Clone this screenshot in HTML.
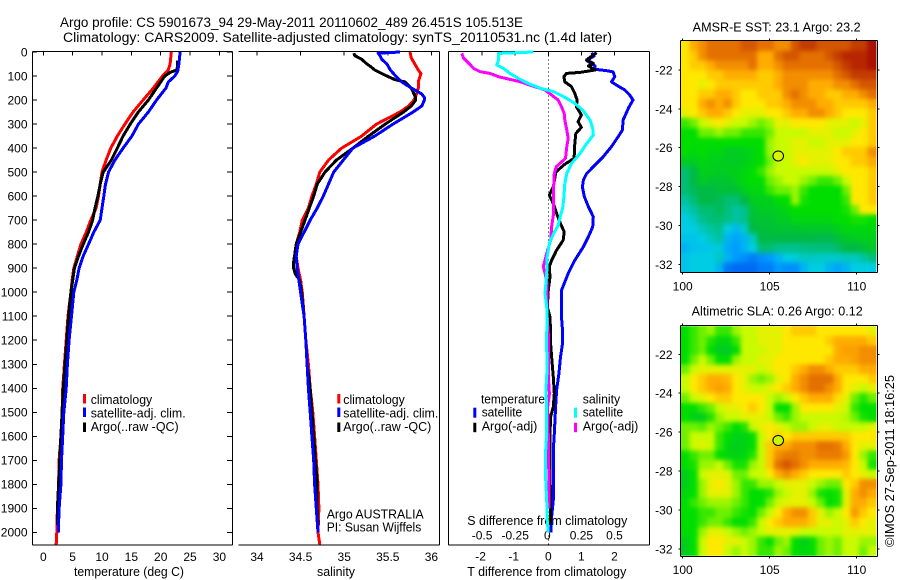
<!DOCTYPE html>
<html lang="en">
<head>
<meta charset="utf-8">
<title>Argo profile chart</title>
<style>
html,body{margin:0;padding:0;background:#fff;}
svg{display:block;}
text{font-family:"Liberation Sans",sans-serif;font-size:12.5px;fill:#000;}
.t{font-size:12px;}
</style>
</head>
<body>
<svg id="chart" xmlns="http://www.w3.org/2000/svg" width="900" height="580" viewBox="0 0 900 580">
<defs>
<filter id="map-blur" x="-5%" y="-5%" width="110%" height="110%" color-interpolation-filters="sRGB"><feGaussianBlur stdDeviation="2.3"/></filter>
<clipPath id="sst-clip"><rect x="681" y="41" width="196" height="231"/></clipPath>
<clipPath id="sla-clip"><rect x="681" y="326" width="196" height="230"/></clipPath>
</defs>
<rect x="0" y="0" width="900" height="580" fill="#fff"/>
<text x="60" y="27" style="font-size:13.5px" textLength="463" lengthAdjust="spacingAndGlyphs">Argo profile: CS 5901673_94 29-May-2011 20110602_489 26.451S 105.513E</text>
<text x="63" y="42" style="font-size:13.5px" textLength="549" lengthAdjust="spacingAndGlyphs">Climatology: CARS2009. Satellite-adjusted climatology: synTS_20110531.nc (1.4d later)</text>

<text x="74" y="576" textLength="110" lengthAdjust="spacingAndGlyphs">temperature (deg C)</text>
<text x="317" y="576" textLength="38" lengthAdjust="spacingAndGlyphs">salinity</text>
<text x="467.3" y="576" textLength="159" lengthAdjust="spacingAndGlyphs">T difference from climatology</text>
<text x="467.3" y="525" textLength="160" lengthAdjust="spacingAndGlyphs">S difference from climatology</text>

<g>
<rect x="83" y="394" width="3" height="9.5" fill="#ff0000"/>
<text x="90.7" y="404" textLength="61.5" lengthAdjust="spacingAndGlyphs">climatology</text>
<rect x="83" y="407.5" width="3" height="9.5" fill="#0000ff"/>
<text x="90.7" y="417.3" textLength="95" lengthAdjust="spacingAndGlyphs">satellite-adj. clim.</text>
<rect x="83" y="422.5" width="3" height="9.5" fill="#000"/>
<text x="90.7" y="431" textLength="88" lengthAdjust="spacingAndGlyphs">Argo(..raw -QC)</text>
</g>
<g>
<rect x="337.3" y="394" width="3" height="9.5" fill="#ff0000"/>
<text x="343.3" y="404" textLength="61.5" lengthAdjust="spacingAndGlyphs">climatology</text>
<rect x="337.3" y="407.5" width="3" height="9.5" fill="#0000ff"/>
<text x="343.3" y="417.3" textLength="95" lengthAdjust="spacingAndGlyphs">satellite-adj. clim.</text>
<rect x="337.3" y="422.5" width="3" height="9.5" fill="#000"/>
<text x="343.3" y="431" textLength="88" lengthAdjust="spacingAndGlyphs">Argo(..raw -QC)</text>
</g>
<text x="326.7" y="518.3" textLength="97" lengthAdjust="spacingAndGlyphs">Argo AUSTRALIA</text>
<text x="326.7" y="531.7" textLength="94.6" lengthAdjust="spacingAndGlyphs">PI: Susan Wijffels</text>

<g>
<text x="481" y="403.3" textLength="64" lengthAdjust="spacingAndGlyphs">temperature</text>
<rect x="473.3" y="407.7" width="3" height="10" fill="#0000ff"/>
<text x="481.7" y="416.7" textLength="40.5" lengthAdjust="spacingAndGlyphs">satellite</text>
<rect x="473.3" y="422.7" width="3" height="9.5" fill="#000"/>
<text x="481.7" y="430.7" textLength="55.6" lengthAdjust="spacingAndGlyphs">Argo(-adj)</text>
<text x="582.7" y="403.3" textLength="37.5" lengthAdjust="spacingAndGlyphs">salinity</text>
<rect x="574" y="407.7" width="3" height="10" fill="#00ffff"/>
<text x="582.7" y="416.7" textLength="40.5" lengthAdjust="spacingAndGlyphs">satellite</text>
<rect x="574" y="422.7" width="3" height="9.5" fill="#ff00ff"/>
<text x="582.7" y="430.7" textLength="55.6" lengthAdjust="spacingAndGlyphs">Argo(-adj)</text>
</g>

<text x="692.7" y="31.7" textLength="168" lengthAdjust="spacingAndGlyphs">AMSR-E SST: 23.1 Argo: 23.2</text>
<text x="691.7" y="315.7" textLength="171" lengthAdjust="spacingAndGlyphs">Altimetric SLA: 0.26 Argo: 0.12</text>
<text transform="translate(894 547) rotate(-90)" x="0" y="0" textLength="172" lengthAdjust="spacingAndGlyphs">©IMOS 27-Sep-2011 18:16:25</text>
</svg>

<script>
// ---------- Profile data: depth (m) and values ----------
const tempClimDepths = [0,50,75,100,150,200,250,300,350,400,450,500,550,600,650,700,750,800,850,900,950,1000,1100,1200,1300,1400,1500,1600,1700,1800,1900,2000,2050];
const tempClim = [21.8,21.6,21.3,20.3,18.75,17,15.3,13.9,12.6,11.5,10.7,10,9.7,9.4,9,8.1,7.3,6.4,5.8,5.2,4.9,4.7,4.2,3.9,3.6,3.3,3.2,3,2.7,2.6,2.4,2.3,2.2];
const tempSatDepths = [0,50,80,100,125,150,200,250,300,350,400,450,500,550,600,650,700,750,800,850,900,950,1000,1100,1200,1300,1400,1500,1600,1700,1800,1900,2000];
const tempSat = [23.3,23.1,22.9,22.4,21.3,20.9,19.3,17.9,16.2,15.1,13.6,12.2,11.1,10.6,10.3,10,9.7,8.6,7.7,6.8,6.1,5.7,5.2,4.8,4.4,4.1,3.9,3.5,3.3,3.1,3,2.7,2.55];
const tempArgoDepths = [35,75,80,85,100,125,150,200,250,300,350,400,450,500,550,600,650,700,750,800,850,900,950,1000,1100,1200,1300,1400,1500,1600,1700,1800,1900,1970];
const tempArgo = [22.9,22.8,22.2,21.6,20.7,20,19.3,17.9,16.2,14.8,13.6,12.6,11.6,10.2,9.7,9.3,8.8,8.4,7.7,6.8,6,5.3,5,4.7,4.3,4,3.7,3.4,3.2,3,2.8,2.6,2.4,2.4];

const salClimDepths = [0,25,50,75,90,100,125,150,175,200,225,250,300,350,400,450,500,550,600,650,700,750,800,850,900,950,1000,1050,1100,1200,1300,1400,1500,1600,1700,1800,1900,2000,2050];
const salClim = [35.755,35.77,35.81,35.85,35.88,35.87,35.85,35.85,35.83,35.8,35.74,35.64,35.37,35.2,34.97,34.82,34.72,34.68,34.63,34.59,34.52,34.49,34.45,34.45,34.47,34.5,34.52,34.53,34.54,34.56,34.59,34.61,34.64,34.66,34.68,34.7,34.71,34.7,34.72];
const salSatDepths = [0,5,15,30,50,75,100,125,150,175,190,200,225,250,300,350,400,450,500,550,600,650,700,750,800,850,900,950,1000,1050,1100,1200,1300,1400,1500,1600,1700,1800,1900,2000];
const salSat = [35.64,35.39,35.41,35.43,35.49,35.53,35.59,35.66,35.77,35.89,35.92,35.92,35.89,35.79,35.56,35.35,35.1,34.99,34.88,34.82,34.76,34.69,34.61,34.54,34.47,34.45,34.46,34.48,34.5,34.52,34.54,34.56,34.575,34.59,34.61,34.63,34.65,34.66,34.68,34.7];
const salArgoDepths = [5,15,30,50,60,75,100,115,125,150,175,190,200,225,250,300,350,400,450,500,550,600,650,700,750,800,850,875,900,925,950,1000,1100,1200,1300,1400,1500,1600,1700,1800,1900,1970];
const salArgo = [35.11,35.12,35.2,35.26,35.3,35.35,35.49,35.58,35.7,35.77,35.8,35.82,35.82,35.77,35.68,35.47,35.28,35.1,34.91,34.78,34.69,34.65,34.6,34.55,34.5,34.45,34.43,34.42,34.42,34.44,34.49,34.51,34.54,34.56,34.575,34.61,34.63,34.65,34.67,34.69,34.69,34.7];

const dTempSatDepths = [3,17,36,58,72,78,83,103,124,138,158,179,200,228,283,325,353,394,436,478,506,533,561,603,644,686,728,769,811,867,922,992,1103,1158,1214,1270,1339,1408,1477,1589,1658,1866,1936,2000];
const dTempSat = [1.31,1.38,1.16,1.41,1.41,1.76,1.96,2.01,1.91,2.06,2.31,2.46,2.56,2.44,2.26,2.24,2.11,1.91,1.66,1.36,1.16,1.06,1.03,1.09,1.21,1.36,1.34,1.21,1.06,0.8,0.6,0.4,0.4,0.43,0.43,0.37,0.32,0.25,0.22,0.18,0.15,0.15,0.1,0.08];
const dTempArgoDepths = [3,17,33,47,58,75,85,89,103,124,144,172,200,228,262,290,314,339,381,443,467,499,561,596,631,672,714,749,783,825,867,894,936,992,1061,1103,1172,1214,1283,1352,1422,1477,1519,1589,1658,1755,1866,1970];
const dTempArgo = [1.46,1.31,1.16,1.36,1.21,1.41,0.96,0.55,0.47,0.5,0.7,0.8,0.87,0.85,1,0.9,1,0.83,0.8,0.78,0.5,0.23,0.15,0.03,0.15,0.25,0.37,0.48,0.45,0.25,0.1,0.03,0.05,0,-0.03,0.05,0.07,0.07,0.11,0.15,0.18,0.15,0.07,0.05,0.05,0.05,0.07,0.06];
const dSalArgoDepths = [6,26,47,68,82,89,103,114,124,138,158,179,200,228,256,283,325,360,394,443,478,506,561,617,672,728,783,839,894,950,1006,1103,1172,1352,1422,1477,1658,1797,1900];
const dSalArgo = [-0.653,-0.64,-0.6,-0.565,-0.515,-0.44,-0.375,-0.29,-0.21,-0.14,-0.025,0.025,0.075,0.1,0.12,0.125,0.14,0.15,0.14,0.13,0.06,0.045,0.04,0.04,0.04,0.025,0.018,-0.012,-0.038,-0.012,-0.008,-0.008,0,0,0.008,-0.005,0.003,0.004,0.004];
const dSalSatDepths = [0,6,33,54,68,89,110,131,151,165,193,214,242,283,318,346,381,422,464,506,547,603,644,686,721,756,797,853,922,1006,1061,1103,1172,1240,1311,1408,1477,1589,1658,1755,1866,1950,2000];
const dSalSat = [-0.11,-0.375,-0.375,-0.39,-0.34,-0.29,-0.225,-0.15,-0.06,0.04,0.14,0.2,0.26,0.315,0.335,0.34,0.29,0.24,0.175,0.14,0.125,0.118,0.11,0.09,0.075,0.04,0.008,-0.008,-0.012,-0.025,-0.012,-0.008,-0.012,-0.012,-0.008,-0.018,-0.012,-0.012,-0.02,-0.022,-0.012,-0.008,0];

// ---------- Tick labels ----------
const depthTicks = [0,100,200,300,400,500,600,700,800,900,1000,1100,1200,1300,1400,1500,1600,1700,1800,1900,2000];
const tempTicks = [0,5,10,15,20,25,30];
const salTicks = [34,34.5,35,35.5,36];
const dTempTicks = [-2,-1,0,1,2];
const dSalTicks = [-0.5,-0.25,0,0.25,0.5];
const lonTicks = [100,105,110];
const latTicks = [-22,-24,-26,-28,-30,-32];

// ---------- Map data: value per cell, north to south ----------
const sstGrid = [
[8,9,9.5,10,10,10,10,10.5,10.5,10,10,9.5,9.5,10.5,11,11,10.5,10.5,10.5,10.5,11,11,12],
[8,8.5,9.5,10,10,10,10,10,10,9,9,10,10.5,10.5,10,10,10,10.5,11,11.5,11.5,11.5,12],
[8,8.5,8.5,9,9.5,9.5,9.5,9.5,10,9,9,9.5,10,10,10,10,10,10,10.5,11,11.5,11.5,12],
[8,8,8,8.5,8.5,9,9,9,9,8.5,8.5,9,9.5,9.5,9.5,9.5,9.5,9.5,10,10.5,11,11,11],
[8,8,7.5,8,8.5,8.5,8.5,8.5,8.5,8.5,8.5,9,9.5,9.5,9.5,9,9,9,9.5,9.5,10,10.5,10.5],
[8,8,8.5,8.5,9,9,8.5,8,8,8.5,8.5,8.5,9.5,10,9.5,9,9,8.5,8.5,9,9,9.5,10],
[8,8,9,9.5,9,9.5,8.5,8,8,8,8.5,8.5,9,9.5,9.5,9.5,9,9,8.5,8.5,8.5,8.5,9],
[7.5,8,8.5,9,9,8.5,8,7.5,7.5,7.5,8,8,8.5,9,9,9.5,9.5,9,8.5,8,8,8,8.5],
[5.5,6,7,7.5,8,7.5,7,7,6.5,6,6.5,7.5,7.5,8,8,8,8,7.5,7.5,7.5,7,7.5,8.5],
[5,5,6,6,6.5,6,6,5.5,5.5,5.5,6,7,7,7,7,7.5,7.5,7.5,7,7,7.5,8,8.5],
[5,5,5,5,5,5,5,5,5,5,6.5,7,7,7.5,7.5,7,7,7.5,7.5,7.5,8,8,8.5],
[5,4.8,5,4.8,4.8,4.5,4.5,4.6,4.8,5,6.5,7,7,7.5,7.5,7.5,7.5,7.5,8,8.5,8.5,8.5,9.5],
[4.5,4.5,4.8,4.6,4.6,4.5,4.5,4.6,4.8,5,6,7,7,7.5,8,7.5,7.5,7.5,8,8,8.5,8.5,9],
[3.5,4,4.6,4.6,4.5,4.6,4.6,4.8,5,5.5,6.5,7,7,7,7,7,7,7,7.5,8,8,8,8.5],
[3.5,4,4.5,4.3,4.3,4.3,4.6,4.8,5,5,6,6.5,7,7,6.5,6,5.5,5.5,6,7,8,8,8.5],
[3.5,3.8,4,4,4.2,4.2,4.2,4.6,4.8,4.8,5.5,6,6,6.5,5.5,5,5,5,5,6,8,8,8.5],
[3,3.5,4,4,3.8,3.5,3.5,4,4.5,4.6,4.6,5,5,6.5,5.2,5,5,5,5,5.5,8,8,8.5],
[2.5,3,3.5,3.5,3.8,3.4,3,3.2,4.3,4.5,4.5,4.6,4.8,5,5,5,5,5,5,5.2,6,8,8],
[2,2.5,3.2,3.5,3.5,3.3,3,3.2,4.2,4.3,4.3,4.5,4.5,4.8,4.8,4.8,4.8,4.8,5,5,5.2,5.2,5],
[2,2,2.6,3,3.2,2,1.6,2.4,4,4.2,4.2,4.3,4.3,4.3,4.4,4.4,4.4,4.4,4.6,4.8,4.8,4.8,4.8],
[1.8,1.8,2,2.5,3,1.5,1.2,1.5,2.5,4,4,4,4,4,4,4,3.9,3.9,4.2,4.4,4.5,4.6,4.6],
[1.5,1.8,1.8,1.9,2.2,1.3,1,1.5,2,3.5,3.5,3.2,3.2,3.2,3.3,3.4,3.4,3.4,3.6,4,4,4.2,4.4],
[1.8,2,2,2,2.5,1.5,1,0.8,0.5,0.8,1,1.5,2,2.2,2.5,2.5,2.4,2.4,2.4,2.6,2.5,3,3.4],
[1.8,2,2,2,1.5,0.4,0.2,0.2,0.2,0.5,0.5,1,0.8,0.8,1.5,2,2,1.5,1.2,1.5,2,2,2]
];
const slaGrid = [
[5,5.5,6,6.5,5.5,5.5,6.5,7,7,7.5,7.5,7.5,8,8.5,8.5,8.5,8,8,8,8,8,8,7.5],
[5,5.5,6,5.3,4.8,4.8,5.5,7,7,7.5,7.5,7.5,8,8,8,8,8,8.5,9,9,9,9,8.5],
[5,5.5,6,5,4.5,4.5,5,7,7,7,7.5,7.5,8,8,8,8,8,8,9,9.2,9.2,9.5,9.5],
[5,6,7,6,5,5,6.5,7,7,7.5,7.5,8,8,8,8,8,8,8.5,9,9,9.2,9.5,9.5],
[6,7,7.5,7.5,7.5,7.5,7.5,7.5,7.5,7,7.5,8,8,8.5,9,9.5,9.5,9,8.5,8.5,8.5,9,9],
[7,8,8.5,9,9,8.8,8,7.5,6.5,6,6.5,7.5,8,9,9.5,10,10,10,9,8,8,8,8.5],
[7,8,8.5,9,9.2,9,8,7.5,7,7,7.5,8,8.5,9,9.5,10,10,9.5,9,8,7.5,7,7.5],
[6,7,7.5,8,8.5,8.5,8,8,8,8,7,6.5,7,8,8.5,9,9,9,8.2,7.5,6,5.3,6],
[5,5,5.5,6,7,7.5,7.5,8,8.5,8,7,5,5,6.5,8,8,8,8,7.5,7,5.5,5,5],
[5,4.6,4.6,5.3,6.5,7,7,7.5,7.5,7.5,7,6,5.5,6.5,7,7,7,7,7,6.8,6,5.2,5],
[6,6,5.8,6.5,6,5.5,5,5.3,7,7.5,8,7.5,7,6.5,6.5,7,7.5,7.5,7,7,7,7,7.5],
[6,7,7,7,5.5,5,4.7,4.7,5,7,8,8.5,8,8.5,8.5,8.5,8.5,8.5,8.5,8.5,8,8,8],
[6,7,7.5,7,5.5,4.8,4.6,4.7,5,7,8.5,9,9,9.5,9.5,9.5,10,10,9.8,9,8,7.5,7.5],
[5,5.5,6,6,5,4.8,4.7,4.8,5.3,7,8.5,9.5,9.8,9.8,9.5,9.5,9.8,9.8,9.8,9.3,8,6.5,5.5],
[5,5.2,6.5,6.5,7,6,5.2,5.2,6.5,7,8.5,10,10.5,10,9.5,9,9,9,9,8.8,8,7,5.2],
[4.6,5,7,7.5,7.5,7.3,6,6,7,7,8,9,9.5,9,8.5,8,8,8,8,8.5,8,7.5,7],
[4.6,5,6.5,7.5,8,7.5,6.5,5.5,5.5,6.5,6.5,7,7.5,7.5,7.5,7,6.5,6,6,8,8.5,9.5,9.5],
[4.8,5,6.5,7.5,7.5,7.5,6.5,5.5,5,5,5.3,6.5,7,7.5,7.5,6.5,5.2,5,5.2,7.5,9,9.5,9],
[5,5.5,6,6.5,6.5,6.5,6,5.5,5,5,6,7,7.5,7.5,7.5,7,6,5,5.2,7.5,9,9,8.5],
[5,5,5.5,5.5,6,6,5.5,5.2,5,6,7,8,9,9.5,9.5,8.5,7.5,6.5,7,8,9.3,8.5,8],
[5,5,5.5,6,6,5.5,5,5,5.5,7,8,8.5,9,9,9,8.5,7.5,7.5,7,7.5,8.5,8,7.5],
[5,5,6.5,7.5,7.5,7,6.5,6,6.5,7,7.5,7.5,7.5,7.5,7,7,7,7,7,7.5,7.5,7.5,7.5],
[4.6,5,7,8,8,7.5,7.5,7,6.5,5.5,5,6,6.5,5,4.6,5,6,6.5,6,7,7,6.5,6.5],
[4.5,5,7,8,8,7,6.5,7,6.5,5.5,5.5,6.5,6,5,4.8,5,6,6.5,6,7,7,6,7]
];
const sstArgoValue = [7.3];
const slaArgoValue = [7];
const floatLon = [105.513];
const floatLat = [-26.451];

const NS = 'http://www.w3.org/2000/svg';
const svg = document.getElementById('chart');

// ---------- Axis functions ----------
function depthY(d){ return 52 + d * 0.2402; }
function tempX(t){ return 43.3 + t * 5.87; }
function salX(s){ return 257 + (s - 34) * 87.2; }
function dTempX(t){ return 548.3 + t * 33.1; }
function dSalX(s){ return 548.3 + s * 132.4; }
function lonX(l){ return 682.7 + (l - 100) * 17.4; }
function sstLatY(l){ return 70 + (-22 - l) * 19.43; }
function slaLatY(l){ return 354.3 + (-22 - l) * 19.47; }

function addLine(x1,y1,x2,y2,name){
  const el = document.createElementNS(NS,'line');
  el.setAttribute('x1',x1);
  el.setAttribute('y1',y1);
  el.setAttribute('x2',x2);
  el.setAttribute('y2',y2);
  el.setAttribute('stroke','#000');
  el.setAttribute('stroke-width','1');
  el.setAttribute('shape-rendering','crispEdges');
  
  
  svg.appendChild(el);
  return el;
}
function addLabel(x,y,str,anchor,name){
  const el = document.createElementNS(NS,'text');
  el.setAttribute('x',x);
  el.setAttribute('y',y);
  el.setAttribute('text-anchor',anchor);
  el.setAttribute('class','t');
  el.textContent = str;
  
  
  svg.appendChild(el);
  return el;
}
function addProfile(depths,vals,xf,color,name){
  const el = document.createElementNS(NS,'polyline');
  const pts = depths.map(function(d,i){ return xf(vals[i]).toFixed(1)+','+depthY(d).toFixed(1); });
  el.setAttribute('points',pts.join(' '));
  el.setAttribute('fill','none');
  el.setAttribute('stroke',color);
  el.setAttribute('stroke-width','3');
  el.setAttribute('stroke-linejoin','round');
  el.setAttribute('shape-rendering','crispEdges');
  
  
  svg.appendChild(el);
  return el;
}

// ---------- Map colours ----------
const colorStops = [[0,[0,95,240]],[1,[0,155,255]],[2,[0,205,228]],[3,[0,195,160]],[4,[0,185,70]],[5,[0,222,0]],[6,[110,240,0]],[7,[200,250,0]],[8,[255,232,0]],[9,[255,172,0]],[10,[228,112,0]],[11,[195,60,0]],[12,[170,15,0]]];
function mapColor(v){
  let i = 0;
  while(i < colorStops.length - 2 && v > colorStops[i+1][0]) i++;
  const a = colorStops[i], b = colorStops[i+1];
  const f = Math.max(0, Math.min(1, (v - a[0]) / (b[0] - a[0])));
  return 'rgb(' + a[1].map(function(c,k){ return Math.round(c + (b[1][k] - c) * f); }).join(',') + ')';
}
function drawMap(grid,latY,latTop,latBottom,name,groupId,clipId){
  const lonLeft = 99.9, lonRight = 111.1;
  const rows = grid.length, cols = grid[0].length;
  const group = document.createElementNS(NS,'g');
  group.setAttribute('id',groupId);
  
  
  grid.forEach(function(row,r){
    row.forEach(function(v,c){
      const x0 = lonX(lonLeft + (lonRight - lonLeft) * c / cols);
      const x1 = lonX(lonLeft + (lonRight - lonLeft) * (c + 1) / cols);
      const y0 = latY(latTop - (latTop - latBottom) * r / rows);
      const y1 = latY(latTop - (latTop - latBottom) * (r + 1) / rows);
      const el = document.createElementNS(NS,'rect');
      el.setAttribute('x',x0.toFixed(2));
      el.setAttribute('y',y0.toFixed(2));
      el.setAttribute('width',(x1 - x0).toFixed(2));
      el.setAttribute('height',(y1 - y0).toFixed(2));
      el.setAttribute('fill',mapColor(v));
      el.setAttribute('shape-rendering','crispEdges');
      
      
      group.appendChild(el);
    });
  });
  svg.appendChild(group);
  // Smoothed overlay of the same cells, clipped to the map frame
  const clipper = document.createElementNS(NS,'g');
  clipper.setAttribute('clip-path','url(#' + clipId + ')');
  
  
  const smooth = document.createElementNS(NS,'use');
  smooth.setAttribute('href','#' + groupId);
  smooth.setAttribute('filter','url(#map-blur)');
  
  
  clipper.appendChild(smooth);
  svg.appendChild(clipper);
}
function drawMapFrame(top,bottom,latY,labelBase,prefix){
  const left = 680.5, right = 877.5;
  addLine(left,top,right,top,prefix + '-frame-top');
  addLine(left,bottom,right,bottom,prefix + '-frame-bottom');
  addLine(left,top,left,bottom,prefix + '-frame-left');
  addLine(right,top,right,bottom,prefix + '-frame-right');
  lonTicks.forEach(function(l){
    const x = lonX(l);
    addLine(x,top - 2,x,top,prefix + '-lon-tick-top');
    addLine(x,bottom,x,bottom + 2,prefix + '-lon-tick-bottom');
    addLabel(x,labelBase,String(l),'middle',prefix + '-lon-label');
  });
  latTicks.forEach(function(l){
    const y = latY(l);
    addLine(left - 2,y,left,y,prefix + '-lat-tick-left');
    addLine(right,y,right + 2,y,prefix + '-lat-tick-right');
    addLabel(672.5,y + 4.5,String(l),'end',prefix + '-lat-label');
  });
}
function drawFloat(latY,val,name){
  const el = document.createElementNS(NS,'ellipse');
  el.setAttribute('cx',lonX(floatLon[0]) - 0.4);
  el.setAttribute('cy',latY(floatLat[0]) - 0.5);
  el.setAttribute('rx','5.3');
  el.setAttribute('ry','5');
  el.setAttribute('fill',mapColor(val));
  el.setAttribute('stroke','#000');
  el.setAttribute('stroke-width','1');
  
  
  svg.appendChild(el);
}

// ---------- Profile panel axes ----------
addLine(32.5,51.5,232.5,51.5,'temperature-panel-top');
addLine(32.5,545,232.5,545,'temperature-panel-bottom');
addLine(32.5,51.5,32.5,545,'temperature-panel-left');
addLine(232.5,51.5,232.5,545,'temperature-panel-right');
depthTicks.forEach(function(d){
  const y = depthY(d);
  addLine(32.5,y,37,y,'depth-tick-left');
  addLine(227,y,232.5,y,'depth-tick-right');
  addLabel(27.5,y + 4.3,String(d),'end','depth-tick-label');
});
tempTicks.forEach(function(t){
  const x = tempX(t);
  addLine(x,51.5,x,55.5,'temperature-tick');
  addLabel(x,561,String(t),'middle','temperature-tick-label');
});

addLine(238.5,51.5,439.5,51.5,'salinity-panel-top');
addLine(238.5,545,439.5,545,'salinity-panel-bottom');
addLine(439.5,51.5,439.5,545,'salinity-panel-right');
salTicks.forEach(function(s){
  const x = salX(s);
  addLine(x,51.5,x,55.5,'salinity-tick');
  addLabel(x,561,String(s),'middle','salinity-tick-label');
});

addLine(448.5,51.5,649.5,51.5,'difference-panel-top');
addLine(448.5,545,649.5,545,'difference-panel-bottom');
addLine(448.5,51.5,448.5,545,'difference-panel-left');
addLine(649.5,51.5,649.5,545,'difference-panel-right');
dTempTicks.forEach(function(t){
  const x = dTempX(t);
  addLine(x,51.5,x,55.5,'t-difference-tick');
  addLabel(x - (t < 0 ? 1.5 : 0),560.7,String(t),'middle','t-difference-tick-label');
});
dSalTicks.forEach(function(s){
  addLabel(dSalX(s) - (s === 0 ? 1 : 0),539.3,String(s),'middle','s-difference-tick-label');
});
(function(){
  const zero = addLine(dTempX(0),51.5,dTempX(0),545,'zero-difference-line');
  zero.setAttribute('stroke-dasharray','1 3');
})();

// ---------- Profiles ----------
addProfile(tempClimDepths,tempClim,tempX,'#ff0000','temperature-climatology-line');
addProfile(tempArgoDepths,tempArgo,tempX,'#000000','temperature-argo-line');
addProfile(tempSatDepths,tempSat,tempX,'#0000ff','temperature-satellite-line');

addProfile(salClimDepths,salClim,salX,'#ff0000','salinity-climatology-line');
addProfile(salArgoDepths,salArgo,salX,'#000000','salinity-argo-line');
addProfile(salSatDepths,salSat,salX,'#0000ff','salinity-satellite-line');

addProfile(dTempSatDepths,dTempSat,dTempX,'#0000ff','t-difference-satellite-line');
addProfile(dTempArgoDepths,dTempArgo,dTempX,'#000000','t-difference-argo-line');
addProfile(dSalArgoDepths,dSalArgo,dSalX,'#ff00ff','s-difference-argo-line');
addProfile(dSalSatDepths,dSalSat,dSalX,'#00ffff','s-difference-satellite-line');

// ---------- Maps ----------
drawMap(sstGrid,sstLatY,-20.52,-32.4,'sst-map-cell','sst-cells','sst-clip');
drawMapFrame(40.5,272.5,sstLatY,290.7,'sst-map');
drawFloat(sstLatY,sstArgoValue[0],'sst-float-marker');

drawMap(slaGrid,slaLatY,-20.57,-32.33,'sla-map-cell','sla-cells','sla-clip');
drawMapFrame(325.5,556.5,slaLatY,574,'sla-map');
drawFloat(slaLatY,slaArgoValue[0],'sla-float-marker');
</script>
</body>
</html>
